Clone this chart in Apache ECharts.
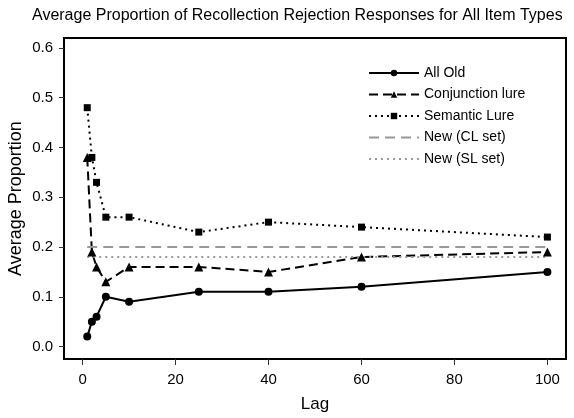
<!DOCTYPE html>
<html>
<head>
<meta charset="utf-8">
<script src="https://cdn.jsdelivr.net/npm/echarts@6/dist/echarts.min.js"></script>
<style>
  html, body { margin: 0; padding: 0; background: #fff; }
</style>
</head>
<body>
<div id="chart" style="width: 574px;height:418px;"></div>
<script>
// data
var lags = [1, 2, 3, 5, 10, 25, 40, 60, 100];
var allOld = [0.02, 0.05, 0.06, 0.10, 0.09, 0.11, 0.11, 0.12, 0.15];
var conjLure = [0.38, 0.19, 0.16, 0.13, 0.16, 0.16, 0.15, 0.18, 0.19];
var semLure = [0.48, 0.38, 0.33, 0.26, 0.26, 0.23, 0.25, 0.24, 0.22];
var newCL = 0.20;
var newSL = 0.18;
var lineRange = [1, 100];
var xTicks = [0, 20, 40, 60, 80, 100];
var yTicks = [0, 0.1, 0.2, 0.3, 0.4, 0.5, 0.6];

function pairs(xs, ys) {
  return xs.map(function (x, i) { return [x, ys[i]]; });
}

var myChart = echarts.init(document.getElementById('chart'));
var font = 'Liberation Sans, Arial, sans-serif';

var option = {
  animation: false,
  title: {
    text: 'Average Proportion of Recollection Rejection Responses for All Item Types',
    left: 27,
    top: 3,
    textStyle: { fontFamily: font, fontSize: 16, fontWeight: 'normal', color: '#000' }
  },
  legend: {
    orient: 'vertical',
    left: 363,
    top: 61,
    itemWidth: 50,
    itemHeight: 8,
    itemGap: 7.5,
    textStyle: { fontFamily: font, fontSize: 14, color: '#000' },
    data: [
      'All Old', 'Conjunction lure', 'Semantic Lure',
      { name: 'New (CL set)', itemStyle: { opacity: 0 } },
      { name: 'New (SL set)', itemStyle: { opacity: 0 } }
    ]
  },
  grid: {
    left: 64,
    right: 8,
    top: 38,
    bottom: 59,
    outerBoundsMode: 'none',
    show: true,
    borderColor: '#000',
    borderWidth: 2
  },
  xAxis: {
    type: 'value',
    min: -4,
    max: 104,
    name: 'Lag',
    nameLocation: 'middle',
    nameGap: 37,
    nameMoveOverlap: false,
    nameTextStyle: { fontFamily: font, fontSize: 17, color: '#000' },
    axisLine: { show: false, onZero: false },
    axisTick: { show: true, length: 6, lineStyle: { color: '#333', width: 1 }, customValues: xTicks },
    axisLabel: { fontFamily: font, fontSize: 15, color: '#000', margin: 13, customValues: xTicks },
    splitLine: { show: false }
  },
  yAxis: {
    type: 'value',
    min: -0.025,
    max: 0.62,
    name: 'Average Proportion',
    nameLocation: 'middle',
    nameGap: 39,
    nameMoveOverlap: false,
    nameTextStyle: { fontFamily: font, fontSize: 18, color: '#000' },
    axisLine: { show: false, onZero: false },
    axisTick: { show: true, length: 5, lineStyle: { color: '#333', width: 1 }, customValues: yTicks },
    axisLabel: {
      fontFamily: font, fontSize: 15, color: '#000', margin: 11, customValues: yTicks,
      formatter: function (v) { return v.toFixed(1); }
    },
    splitLine: { show: false }
  },
  series: [
    {
      name: 'All Old',
      type: 'line',
      data: pairs(lags, allOld),
      symbol: 'circle',
      symbolSize: 8,
      itemStyle: { color: '#000' },
      lineStyle: { color: '#000', width: 2 }
    },
    {
      name: 'Conjunction lure',
      type: 'line',
      data: pairs(lags, conjLure),
      symbol: 'triangle',
      symbolSize: 9,
      itemStyle: { color: '#000' },
      lineStyle: { color: '#000', width: 2, type: [9, 5] }
    },
    {
      name: 'Semantic Lure',
      type: 'line',
      data: pairs(lags, semLure),
      symbol: 'rect',
      symbolSize: 7,
      itemStyle: { color: '#000' },
      lineStyle: { color: '#000', width: 2, type: [2, 4] }
    },
    {
      name: 'New (CL set)',
      type: 'line',
      data: lineRange.map(function (x) { return [x, newCL]; }),
      symbol: 'none',
      itemStyle: { color: '#999' },
      lineStyle: { color: '#999', width: 2, type: [10, 6] }
    },
    {
      name: 'New (SL set)',
      type: 'line',
      data: lineRange.map(function (x) { return [x, newSL]; }),
      symbol: 'none',
      itemStyle: { color: '#999' },
      lineStyle: { color: '#999', width: 2, type: [2, 4] }
    }
  ]
};

myChart.setOption(option);
</script>
</body>
</html>
